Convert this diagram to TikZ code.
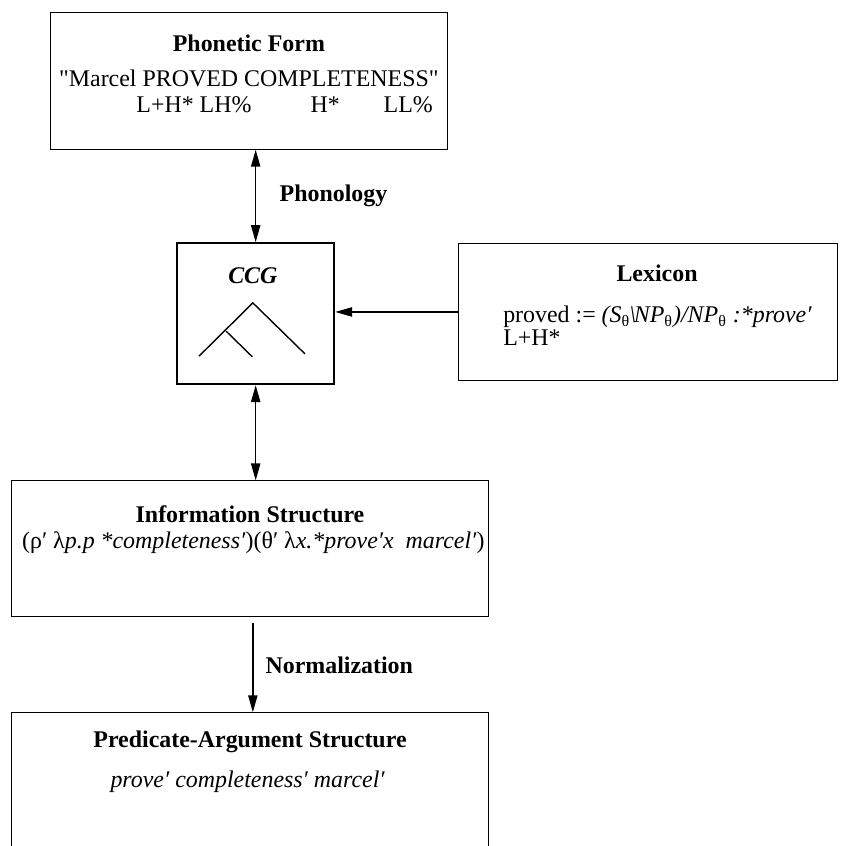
\documentclass[tikz,border=0pt]{standalone}
\usepackage{fontspec}
\setmainfont{Liberation Serif}[Ligatures=TeXOff]
\usepackage{xcolor}
\usepackage{tikz}
\usetikzlibrary{positioning,arrows.meta}

\begin{document}
\begin{tikzpicture}[node distance=2cm and 2cm, auto,
    >={Triangle[length=8.5pt, width=4.6pt]},
    box/.style={draw, line width=0.5pt, inner sep=0pt},
    txt/.style={inner sep=0pt, font=\fontsize{12}{14}\selectfont},
    head/.style={inner sep=0pt, font=\fontsize{12}{14}\selectfont\bfseries},
    link/.style={line width=0.8pt}]
\clip (0,0) rectangle (14.852,14.923);

\node[box, minimum width=6.99cm, minimum height=2.42cm] (phon_form) at (4.39,13.50) {};
\node[head, anchor=base] (phon_form_title) at (4.39,14.02) {Phonetic Form};
\node[txt, anchor=base] (phon_form_text) at (4.39,13.39) {"Marcel PROVED COMPLETENESS"};
\node[txt, anchor=base west] (phon_form_tones) at (2.40,12.93) {L+H* LH\%\hspace{29.5bp}H*\hspace{22bp}LL\%};

\node[box, line width=0.9pt, minimum width=2.77cm, minimum height=2.49cm] (ccg) at (4.51,9.39) {};
\node[head, anchor=base] (ccg_title) at (4.46,9.93) {\textit{CCG}};
\draw[line width=0.7pt] (3.51,8.64) -- (4.46,9.58) -- (5.38,8.68);
\draw[line width=0.7pt] (3.99,9.08) -- (4.45,8.63);

\node[box, minimum width=6.70cm, minimum height=2.43cm] (lexicon) at (11.43,9.42) {};
\node[head, anchor=base] (lexicon_title) at (11.59,9.95) {Lexicon};
\node[txt, anchor=base west] (lexicon_entry) at (8.87,9.23) {proved := \textit{(S\textsubscript{\textup{θ}}\kern-0.5pt\textbackslash\kern-1pt NP\textsubscript{\textup{θ}})/NP\textsubscript{\textup{θ}} :*prove′}};
\node[txt, anchor=base west] (lexicon_tone) at (8.87,8.82) {L+H*};

\node[box, minimum width=8.40cm, minimum height=2.40cm] (info_struct) at (4.41,5.24) {};
\node[head, anchor=base] (info_struct_title) at (4.41,5.70) {Information Structure};
\node[txt, anchor=base] (info_struct_text) at (4.47,5.24) {(ρ′ λ\textit{p.p *completeness′})(θ′ λ\textit{x.*prove′x\ \ marcel′})};

\node[box, minimum width=8.40cm, minimum height=2.60cm] (pred_arg) at (4.41,1.05) {};
\node[head, anchor=base] (pred_arg_title) at (4.41,1.73) {Predicate-Argument Structure};
\node[txt, anchor=base] (pred_arg_text) at (4.37,1.04) {\textit{prove′ completeness′ marcel′}};

\draw[link, <->] (ccg.north |- phon_form.south) -- (ccg.north)
    node[midway, right=0.41cm, head] {Phonology};
\draw[link, ->] (lexicon.west) -- (lexicon.west -| ccg.east);
\draw[link, <->] (ccg.south) -- (ccg.south |- info_struct.north);
\draw[link, ->, shorten <=0.09cm] ([xshift=0.05cm]info_struct.south) -- ([xshift=0.05cm]pred_arg.north)
    node[midway, right=0.21cm, head] {Normalization};

\end{tikzpicture}
\end{document}
